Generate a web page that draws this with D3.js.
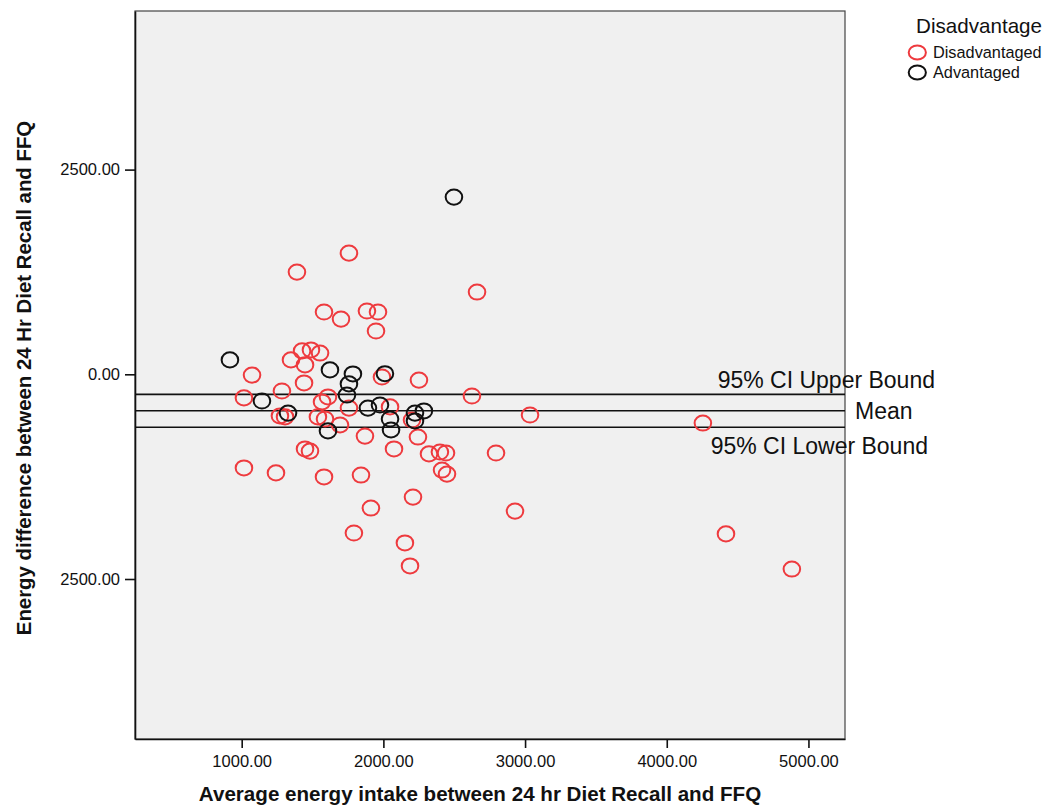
<!DOCTYPE html>
<html>
<head>
<meta charset="utf-8">
<script src="https://cdn.jsdelivr.net/npm/d3@7"></script>
<style>
  html, body { margin: 0; padding: 0; background: #ffffff; }
  svg { display: block; font-family: "Liberation Sans", Arial, Helvetica, sans-serif; }
</style>
</head>
<body>
<svg id="chart" width="1050" height="807"></svg>
<script>
// Bland-Altman style plot: 24 hr recall vs FFQ energy intake
const disadvantagedAvg = [1757, 1390, 2661, 1581, 1701, 1884, 1962, 1948, 1426, 1489, 1553, 1348, 1447, 1073,
  1440, 1284, 1016, 1567, 1609, 1757, 1270, 1306, 1538, 1588, 1694, 1990, 2251, 2047, 2202, 2244,
  1870, 2075, 1447, 1482, 2322, 2399, 2442, 2414, 2449, 2795, 2625, 3035, 4255, 1016, 1242, 1581,
  1842, 2209, 1912, 2929, 1792, 2152, 2188, 4418, 4883];
const disadvantagedDiff = [1481, 1249, 1005, 761, 675, 773, 761, 529, 285, 297, 260, 175, 114, -9,
  -106, -204, -289, -338, -277, -412, -509, -521, -521, -546, -619, -33, -70, -399, -558, -766,
  -754, -912, -912, -937, -973, -949, -961, -1169, -1218, -961, -265, -497, -595, -1144, -1205, -1254,
  -1230, -1499, -1633, -1670, -1938, -2060, -2341, -1950, -2378];

const advantagedAvg = [2498, 917, 1143, 1327, 1623, 1785, 1757, 1743, 1609, 2011, 1891, 1976, 2047, 2054,
  2223, 2286, 2223];
const advantagedDiff = [2165, 175, -326, -473, 53, 4, -118, -253, -692, 7, -412, -375, -546, -680,
  -473, -448, -570];

// Reference lines: mean difference and its 95% confidence bounds
const refNames = ["95% CI Upper Bound", "Mean", "95% CI Lower Bound"];
const refValues = [-245, -446, -647];

const xTickValues = [1000, 2000, 3000, 4000, 5000];
const xTickLabels = ["1000.00", "2000.00", "3000.00", "4000.00", "5000.00"];
const yTickValues = [2500, 0, -2500];
const yTickLabels = ["2500.00", "0.00", "2500.00"];

const legendTitle = "Disadvantage";
const groupNames = ["Disadvantaged", "Advantaged"];
const groupColors = ["#ee3a3e", "#111111"];

const xTitle = "Average energy intake between 24 hr Diet Recall and FFQ";
const yTitle = "Energy difference between 24 Hr Diet Recall and FFQ";

const svg = d3.select("#chart");
const plot = { left: 135, right: 845, top: 11, bottom: 739 };

const x = d3.scaleLinear().domain([247, 5258]).range([plot.left, plot.right]);
const y = d3.scaleLinear().domain([-4454, 4437]).range([plot.bottom, plot.top]);

// plot background and frame
svg.append("rect")
  .attr("x", plot.left).attr("y", plot.top)
  .attr("width", plot.right - plot.left).attr("height", plot.bottom - plot.top)
  .attr("fill", "#f0f0f0").attr("stroke", "#444").attr("stroke-width", 1.2);

// axes
const xAxis = d3.axisBottom(x).tickValues(xTickValues)
  .tickFormat((d, i) => xTickLabels[i]).tickSize(9).tickSizeOuter(0).tickPadding(4);
const gx = svg.append("g").attr("transform", `translate(0,${plot.bottom})`).call(xAxis);
gx.select(".domain").attr("stroke", "#111").attr("stroke-width", 1.6);
gx.selectAll(".tick line").attr("stroke", "#111").attr("stroke-width", 1.6);
gx.selectAll(".tick text").attr("font-size", 16.5).attr("fill", "#111")
  .attr("font-family", "Liberation Sans, Arial, sans-serif").attr("dy", "0.93em");

const yAxis = d3.axisLeft(y).tickValues(yTickValues)
  .tickFormat((d, i) => yTickLabels[i]).tickSize(10).tickSizeOuter(0).tickPadding(5);
const gy = svg.append("g").attr("transform", `translate(${plot.left},0)`).call(yAxis);
gy.select(".domain").attr("stroke", "#111").attr("stroke-width", 1.6);
gy.selectAll(".tick line").attr("stroke", "#111").attr("stroke-width", 1.6);
gy.selectAll(".tick text").attr("font-size", 16.5).attr("fill", "#111")
  .attr("font-family", "Liberation Sans, Arial, sans-serif");

// reference lines
svg.append("g").selectAll("line").data(refValues).join("line")
  .attr("x1", plot.left).attr("x2", plot.right)
  .attr("y1", d => y(d)).attr("y2", d => y(d))
  .attr("stroke", "#111").attr("stroke-width", 1.6);

// reference line labels
const refLabel = svg.append("g").attr("font-size", 23).attr("fill", "#111");
refLabel.append("text").attr("x", 935).attr("y", y(refValues[0]) - 6)
  .attr("text-anchor", "end").text(refNames[0]);
refLabel.append("text").attr("x", 855).attr("y", y(refValues[1]) + 8)
  .attr("text-anchor", "start").text(refNames[1]);
refLabel.append("text").attr("x", 928).attr("y", y(refValues[2]) + 26.5)
  .attr("text-anchor", "end").text(refNames[2]);

// points
const groups = [
  { name: groupNames[0], color: groupColors[0], xs: disadvantagedAvg, ys: disadvantagedDiff },
  { name: groupNames[1], color: groupColors[1], xs: advantagedAvg, ys: advantagedDiff }
];
groups.forEach(g => {
  svg.append("g").selectAll("ellipse").data(g.xs.map((v, i) => [v, g.ys[i]])).join("ellipse")
    .attr("cx", d => x(d[0])).attr("cy", d => y(d[1]))
    .attr("rx", 8.3).attr("ry", 7.6)
    .attr("fill", "none").attr("stroke", g.color).attr("stroke-width", 2);
});

// axis titles
svg.append("text").attr("x", 480).attr("y", 801).attr("text-anchor", "middle")
  .attr("font-size", 20.6).attr("font-weight", "bold").attr("fill", "#111").text(xTitle);
svg.append("text").attr("transform", "translate(31,378) rotate(-90)").attr("text-anchor", "middle")
  .attr("font-size", 20.4).attr("font-weight", "bold").attr("fill", "#111").text(yTitle);

// legend
const legend = svg.append("g");
legend.append("text").attr("x", 1042).attr("y", 33.3).attr("text-anchor", "end")
  .attr("font-size", 20.6).attr("fill", "#111").text(legendTitle);
groups.forEach((g, i) => {
  const cy = 52.5 + i * 20;
  legend.append("ellipse").attr("cx", 917.3).attr("cy", cy).attr("rx", 8.6).attr("ry", 7)
    .attr("fill", "none").attr("stroke", g.color).attr("stroke-width", 2);
  legend.append("text").attr("x", 933).attr("y", cy + 5.5)
    .attr("font-size", 16.3).attr("fill", "#111").text(g.name);
});
</script>
</body>
</html>
